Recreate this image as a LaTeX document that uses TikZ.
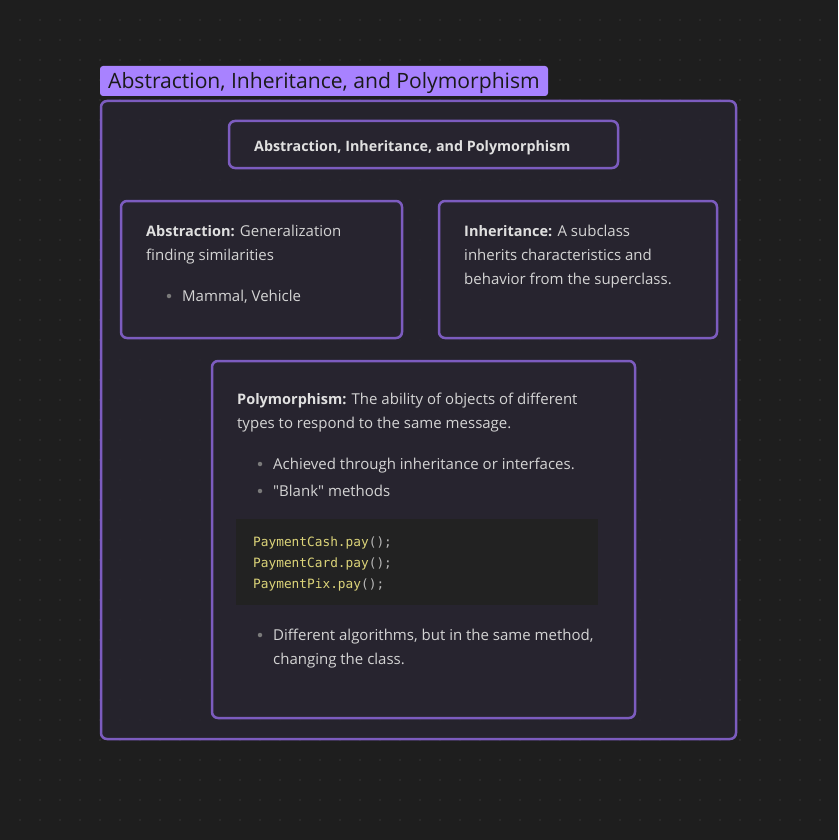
\documentclass[tikz,border=0pt]{standalone}
\usepackage{fontspec}
\setmainfont{Open Sans}[Ligatures=TeXOff]
\newfontfamily\codefont{DejaVu Sans Mono}
\definecolor{bgc}{HTML}{1E1E1E}
\definecolor{dotc}{HTML}{363636}
\definecolor{grpfill}{HTML}{27252F}
\definecolor{boxfill}{HTML}{27242F}
\definecolor{bordc}{HTML}{7C5CBF}
\definecolor{labfill}{HTML}{A882FF}
\definecolor{labtext}{HTML}{1A1A1A}
\definecolor{txt}{HTML}{D4D4D4}
\definecolor{txtb}{HTML}{E0E0E0}
\definecolor{bulc}{HTML}{7A7A7A}
\definecolor{codebg}{HTML}{222222}
\definecolor{codey}{HTML}{DCD479}
\definecolor{codep}{HTML}{B8B8B8}
\newcommand{\bt}[1]{{\bfseries\fontsize{14.5}{18}\selectfont\color{txtb}#1}}
\newcommand{\cy}[1]{{\color{codey}#1}}
\newcommand{\cp}[1]{{\color{codep}#1}}
\tikzset{
  cardbox/.style={draw=bordc, line width=2.5pt, rounded corners=6pt, fill=boxfill},
  txtline/.style={anchor=base west, inner sep=0pt, text=txt, font=\fontsize{15}{18}\selectfont},
  codeline/.style={anchor=base west, inner sep=0pt, font=\codefont\fontsize{12.8}{15}\selectfont},
  bullet/.style={circle, fill=bulc, inner sep=0pt, minimum size=4.5pt}
}
\begin{document}
\begin{tikzpicture}[x=1pt,y=-1pt]
\useasboundingbox (0,0) rectangle (838,840);
\fill[bgc] (0,0) rectangle (838,840);
\foreach \i in {1,...,41}{\foreach \j in {1,...,41}{\fill[dotc] (20*\i,20*\j) circle (0.8pt);}}
% group
\draw[draw=bordc, line width=2.5pt, rounded corners=6pt, fill=grpfill, fill opacity=0.85] (101,101) rectangle (736,739);
\fill[labfill, rounded corners=3pt] (100,66) rectangle (548,96);
\node[anchor=base west, inner sep=0pt, text=labtext, font=\fontsize{21.1}{24}\selectfont] (glabel) at (108,89) {Abstraction, Inheritance, and Polymorphism};
% title
\draw[cardbox] (229,121) rectangle (618,168);
\node[txtline, font=\bfseries\fontsize{14.3}{18}\selectfont, text=txtb] (title) at (254,151) {Abstraction, Inheritance, and Polymorphism};
% abstraction
\draw[cardbox] (121,201) rectangle (402,338);
\node[txtline] (a1) at (146,236) {\bt{Abstraction:} Generalization};
\node[txtline] (a2) at (146,260) {finding similarities};
\node[bullet] (ab) at (169,296) {};
\node[txtline] (a3) at (182,301) {Mammal, Vehicle};
% inheritance
\draw[cardbox] (439,201) rectangle (717,338);
\node[txtline] (i1) at (464,236) {\bt{Inheritance:} A subclass};
\node[txtline] (i2) at (464,260) {inherits characteristics and};
\node[txtline] (i3) at (464,284) {behavior from the superclass.};
% polymorphism
\draw[cardbox] (212,361) rectangle (635,718);
\node[txtline] (p1) at (237,404) {\bt{Polymorphism:} The ability of objects of different};
\node[txtline] (p2) at (237,428) {types to respond to the same message.};
\node[bullet] (pb1) at (260,464) {};
\node[txtline] (p3) at (273,469) {Achieved through inheritance or interfaces.};
\node[bullet] (pb2) at (260,491) {};
\node[txtline] (p4) at (273,496) {"Blank" methods};
\fill[codebg] (236,519) rectangle (598,605);
\node[codeline] (c1) at (253,546) {\cy{PaymentCash.pay}\cp{();}};
\node[codeline] (c2) at (253,567) {\cy{PaymentCard.pay}\cp{();}};
\node[codeline] (c3) at (253,588) {\cy{PaymentPix.pay}\cp{();}};
\node[bullet] (pb3) at (260,635) {};
\node[txtline] (p5) at (273,640) {Different algorithms, but in the same method,};
\node[txtline] (p6) at (273,664) {changing the class.};
\end{tikzpicture}
\end{document}
